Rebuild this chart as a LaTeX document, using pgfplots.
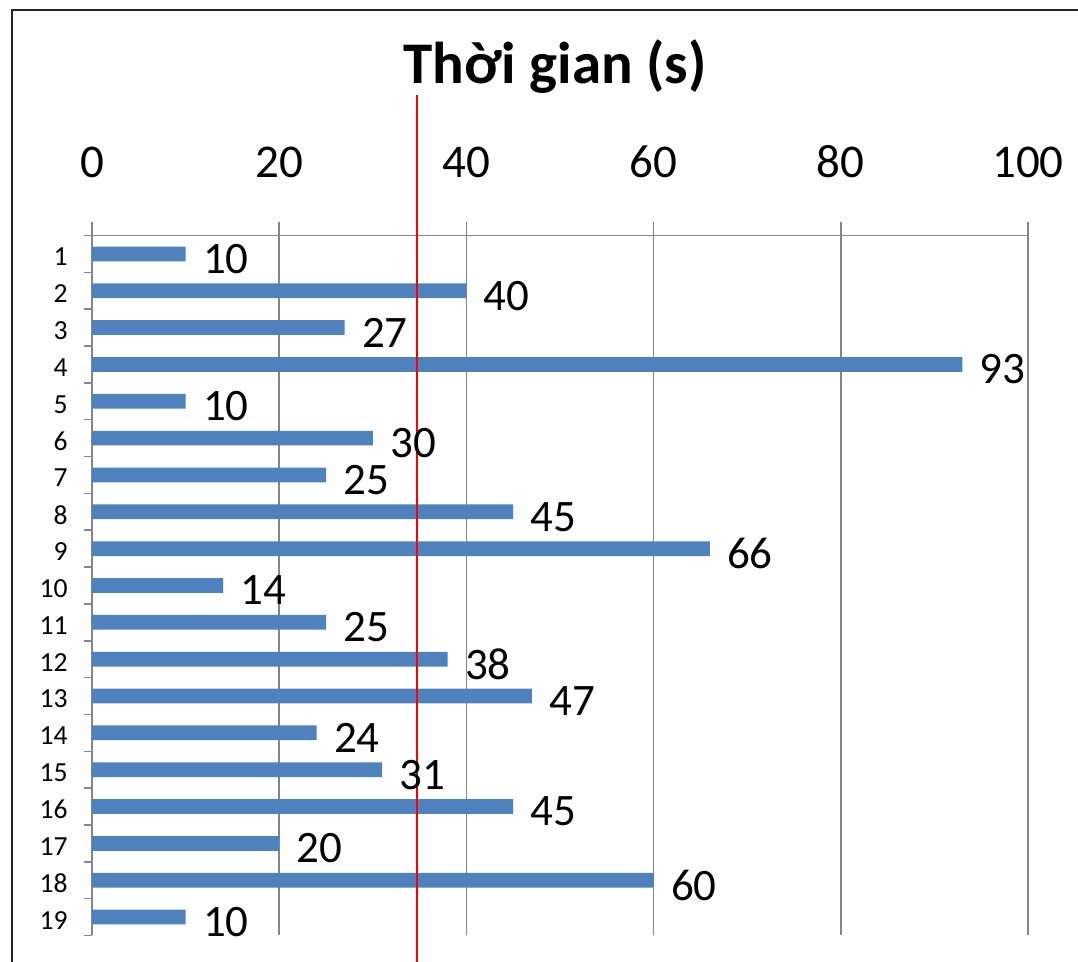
\documentclass[border=0pt]{standalone}
\usepackage{pgfplots}
\pgfplotsset{compat=1.18}
\usepackage{fontspec}
\setmainfont{Carlito}
\definecolor{barblue}{HTML}{4F81BD}
\definecolor{gridgray}{HTML}{868686}
\begin{document}
\begin{tikzpicture}
\begin{axis}[
  at={(46pt,363.25pt)}, anchor=north west,
  width=468pt, height=350pt, scale only axis,
  bar width=0.4,
  xmin=0, xmax=100, ymin=0.5, ymax=19.5,
  y dir=reverse,
  clip=false,
  axis line style={draw=none},
  /pgf/number format/assume math mode=true,
  xtick={0,20,40,60,80,100},
  xtick pos=right, xticklabel pos=right,
  tick align=outside,
  major tick length=6.5pt,
  minor tick length=4pt,
  xmajorgrids,
  grid style={gridgray, line width=0.75pt},
  major x tick style={gridgray, line width=0.75pt},
  ytick={1,...,19},
  minor ytick={0.5,1.5,...,19.5},
  ytick pos=left,
  major y tick style={draw=none},
  minor y tick style={gridgray, line width=0.75pt},
  xticklabel style={font=\fontsize{23.5}{28}\selectfont, anchor=base, inner sep=0pt, yshift=22.25pt},
  yticklabel style={font=\fontsize{13.8}{16}\selectfont, anchor=east, inner sep=0pt, xshift=-5.5pt, yshift=-1.5pt},
]
\draw[gridgray, line width=0.75pt] (axis description cs:0,1) -- (axis description cs:1,1);
\draw[gridgray, line width=0.75pt] (axis description cs:0,0) -- (axis description cs:0,1);
\addplot[xbar, fill=barblue, draw=none,
  nodes near coords,
  every node near coord/.append style={font=\fontsize{22.5}{27}\selectfont, anchor=west, inner sep=0pt, xshift=8.5pt, yshift=-2.5pt, black}]
coordinates {
(10,1) (40,2) (27,3) (93,4) (10,5) (30,6) (25,7) (45,8) (66,9) (14,10)
(25,11) (38,12) (47,13) (24,14) (31,15) (45,16) (20,17) (60,18) (10,19)
};
\addplot[sharp plot, red, line width=1pt, mark=none] coordinates {(34.74,-3.3) (34.74,20.6)};
\end{axis}
\node[font=\bfseries\fontsize{29.5}{35}\selectfont, anchor=base] at (277.5pt,439pt) {Thời gian (s)};
\draw[black!85, line width=1pt] (6pt,476pt) rectangle (600pt,-30pt);
\pgfresetboundingbox
\path[use as bounding box] (0,0) rectangle (539pt,481pt);
\end{tikzpicture}
\end{document}
